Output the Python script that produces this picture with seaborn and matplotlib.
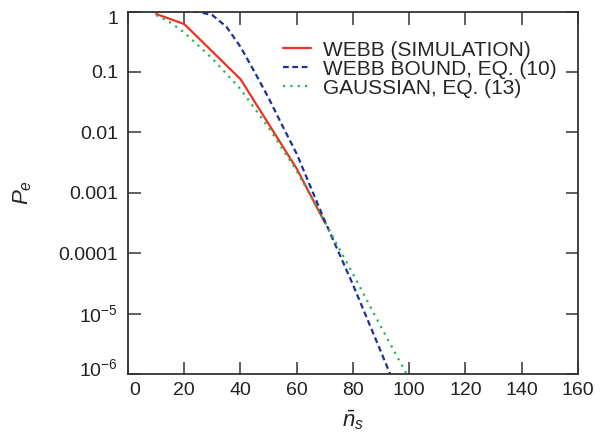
import numpy as np
import pandas as pd
import matplotlib
matplotlib.use("Agg")
import matplotlib.pyplot as plt
import matplotlib.transforms as mtransforms
import seaborn as sns

# values (P_e on log axis)
sim_x = [10, 20, 40, 60, 70]
sim_y = [0.91, 0.62, 0.076, 0.0025, 0.00032]

bound_x = [10, 20, 25, 30, 35, 40, 45, 50, 55, 60, 70, 80, 90, 100]
bound_y = [1.0, 1.0, 0.99, 0.87, 0.56, 0.26, 0.1, 0.037, 0.0126, 0.0044,
           0.00034, 3.0e-5, 2.3e-6, 1.7e-7]

gauss_x = [10, 15, 20, 30, 40, 50, 60, 70, 80, 90, 100]
gauss_y = [0.87, 0.66, 0.45, 0.166, 0.052, 0.012, 0.0023, 0.00033,
           4.5e-5, 6.0e-6, 8.3e-7]

labels = ["WEBB (SIMULATION)", "WEBB BOUND, EQ. (10)", "GAUSSIAN, EQ. (13)"]
colors = ["#ee3224", "#1e2f96", "#1db954"]

sns.set_style("ticks")
plt.rcParams['font.family'] = ['Liberation Sans', 'DejaVu Sans']
plt.rcParams['mathtext.fontset'] = 'custom'
plt.rcParams['mathtext.rm'] = 'Liberation Sans'
plt.rcParams['mathtext.it'] = 'Liberation Sans:italic'

fig, ax = plt.subplots(figsize=(6, 4.46), dpi=100)
fig.subplots_adjust(left=0.2133, right=0.9633, top=0.9742, bottom=0.1614)

sns.lineplot(x=sim_x, y=sim_y, ax=ax, color=colors[0], lw=1.6, label=labels[0])
sns.lineplot(x=bound_x, y=bound_y, ax=ax, color=colors[1], lw=1.6,
             label=labels[1], linestyle=(0, (2.6, 1.6)))
sns.lineplot(x=gauss_x, y=gauss_y, ax=ax, color=colors[2], lw=1.6,
             label=labels[2], linestyle=(0, (1, 2.3)))

ax.set_yscale("log")
ax.set_xlim(0, 160)
ax.set_ylim(1e-6, 1)
ax.set_xticks(np.arange(0, 161, 20))
yt = [1, 0.1, 0.01, 0.001, 0.0001, 1e-5, 1e-6]
ytl = ["1", "0.1", "0.01", "0.001", "0.0001", r"10$^{-5}$", r"10$^{-6}$"]
ax.set_yticks(yt)
ax.set_yticklabels(ytl)
ax.minorticks_off()
ax.tick_params(direction="in", length=9, width=1.1, labelsize=14,
               top=True, right=True, colors="#333333", labelcolor="#222222")
ax.tick_params(axis="y", pad=7)
ax.tick_params(axis="x", pad=6)
for s in ax.spines.values():
    s.set_linewidth(1.3)
    s.set_color("#333333")

ax.set_xlabel(r"$\bar{n}_s$", fontsize=16, labelpad=6, color="#222222")
ax.set_ylabel(r"$P_e$", fontsize=16, labelpad=18, color="#222222")

ax.legend(loc="upper left", frameon=False, fontsize=15, handlelength=1.35,
          handletextpad=0.6, labelspacing=0.0, borderaxespad=0,
          borderpad=0, bbox_to_anchor=(0.344, 0.92))

# nudge the corner labels away from the axis corners, as in the original
def nudge(lbl, dx, dy):
    lbl.set_transform(lbl.get_transform() +
                      mtransforms.ScaledTranslation(dx / 72, dy / 72, fig.dpi_scale_trans))

nudge(ax.get_xticklabels()[0], 5, 0)
nudge(ax.get_yticklabels()[0], 0, -4.5)
nudge(ax.get_yticklabels()[-1], 0, 5)

fig.savefig("out.png", dpi=100)
